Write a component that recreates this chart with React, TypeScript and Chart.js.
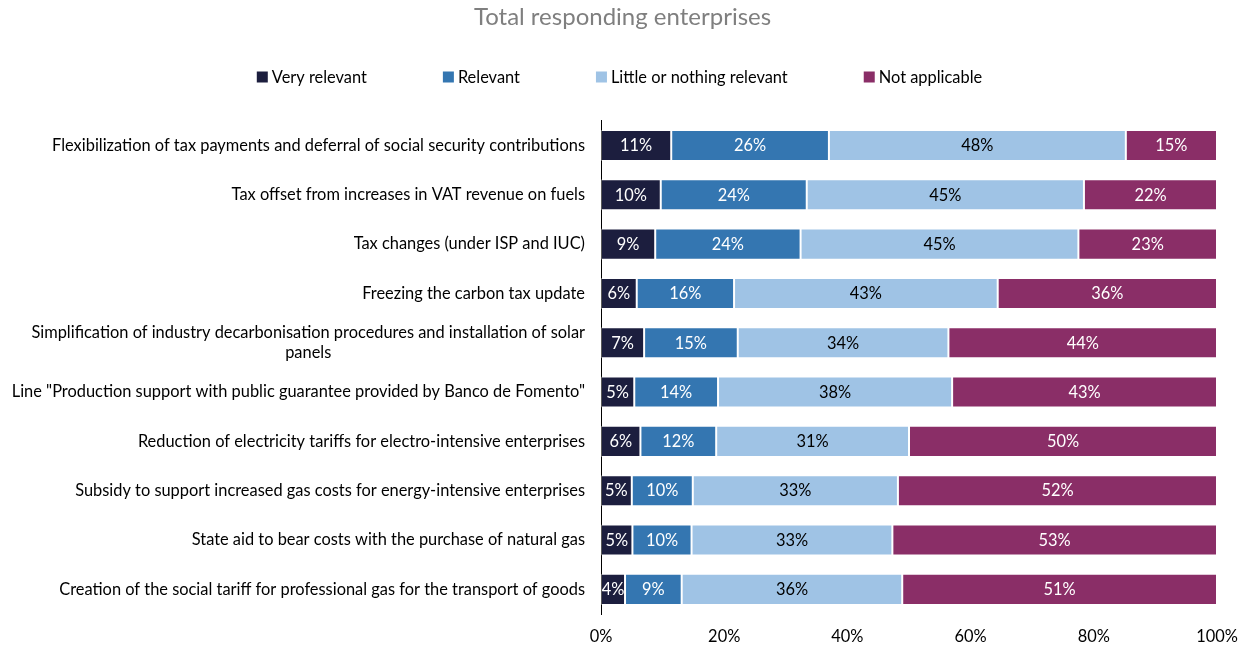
import React, { useEffect, useRef } from 'react';
import { Chart, registerables } from 'chart.js';

Chart.register(...registerables);

const FONT = "Lato, 'Open Sans', sans-serif";
const FS = 16.4;

const titleText = 'Total responding enterprises';

const categories: (string | string[])[] = [
  'Flexibilization of tax payments and deferral of social security contributions',
  'Tax offset from increases in VAT revenue on fuels',
  'Tax changes (under ISP and IUC)',
  'Freezing the carbon tax update',
  ['Simplification of industry decarbonisation procedures and installation of solar', 'panels'],
  'Line "Production support with public guarantee provided by Banco de Fomento"',
  'Reduction of electricity tariffs for electro-intensive enterprises',
  'Subsidy to support increased gas costs for energy-intensive enterprises',
  'State aid to bear costs with the purchase of natural gas',
  'Creation of the social tariff for professional gas for the transport of goods',
];

const seriesNames = ['Very relevant', 'Relevant', 'Little or nothing relevant', 'Not applicable'];

const veryRelevant = [11.4, 9.7, 8.8, 5.8, 7.0, 5.4, 6.4, 5.0, 5.1, 3.9];
const relevant = [25.6, 23.7, 23.6, 15.8, 15.2, 13.6, 12.3, 9.9, 9.6, 9.2];
const littleOrNothing = [48.2, 45.0, 45.1, 42.8, 34.2, 38.0, 31.3, 33.3, 32.6, 35.8];
const notApplicable = [14.8, 21.6, 22.5, 35.6, 43.6, 43.0, 50.0, 51.8, 52.7, 51.1];

const seriesColors = ['#1C1E3E', '#3476B1', '#9FC3E5', '#8A2E67'];
const labelColors = ['#ffffff', '#ffffff', '#000000', '#ffffff'];

const xTickStep = 20;

const yLabelPlugin = {
  id: 'yLabels',
  afterDraw(chart: any) {
    const ctx = chart.ctx;
    const yScale = chart.scales.y;
    const rightX = yScale.right - 16;
    const lh = 20;
    ctx.save();
    ctx.font = `${FS}px ${FONT}`;
    ctx.fillStyle = '#000';
    ctx.textBaseline = 'middle';
    ctx.textAlign = 'center';
    categories.forEach((lab, i) => {
      const lines = Array.isArray(lab) ? lab : [lab];
      const yc = yScale.getPixelForValue(i);
      const w = Math.max(...lines.map((l) => ctx.measureText(l).width));
      const cx = rightX - w / 2;
      lines.forEach((l, j) => {
        ctx.fillText(l, cx, yc - ((lines.length - 1) * lh) / 2 + j * lh);
      });
    });
    ctx.restore();
  },
};

const legendPlugin = {
  id: 'customLegend',
  afterDraw(chart: any) {
    const ctx = chart.ctx;
    ctx.save();
    ctx.font = `${FS}px ${FONT}`;
    ctx.textBaseline = 'middle';
    ctx.textAlign = 'left';
    const box = 11;
    const gapText = 4;
    const gapItem = 76;
    const widths = seriesNames.map((n) => box + gapText + ctx.measureText(n).width);
    const total = widths.reduce((a, b) => a + b, 0) + gapItem * (seriesNames.length - 1);
    let x = 619.5 - total / 2;
    const y = 77;
    seriesNames.forEach((n, i) => {
      ctx.fillStyle = seriesColors[i];
      ctx.fillRect(x, y - box / 2, box, box);
      ctx.fillStyle = '#000';
      ctx.fillText(n, x + box + gapText, y + 0.5);
      x += widths[i] + gapItem;
    });
    ctx.restore();
  },
};

const dataLabelPlugin = {
  id: 'dataLabels',
  afterDatasetsDraw(chart: any) {
    const ctx = chart.ctx;
    ctx.save();
    ctx.font = `${FS}px ${FONT}`;
    ctx.textAlign = 'center';
    ctx.textBaseline = 'middle';
    chart.data.datasets.forEach((ds: any, di: number) => {
      const meta = chart.getDatasetMeta(di);
      meta.data.forEach((el: any, i: number) => {
        const p = el.getProps(['x', 'base', 'y'], true);
        const v = ds.data[i];
        ctx.fillStyle = labelColors[di];
        ctx.fillText(Math.round(v) + '%', (p.x + p.base) / 2, p.y + 0.5);
      });
    });
    ctx.restore();
  },
};

export default function App() {
  const ref = useRef<HTMLCanvasElement | null>(null);
  useEffect(() => {
    if (!ref.current) return;
    const seriesData = [veryRelevant, relevant, littleOrNothing, notApplicable];
    const chart = new Chart(ref.current, {
      type: 'bar',
      data: {
        labels: categories as any,
        datasets: seriesNames.map((name, i) => ({
          label: name,
          data: seriesData[i],
          backgroundColor: seriesColors[i],
          borderColor: 'rgba(255,255,255,0.35)',
          borderWidth: 1,
          borderSkipped: false,
          barPercentage: 0.63,
          categoryPercentage: 1,
        })),
      },
      options: {
        indexAxis: 'y',
        animation: false,
        responsive: true,
        maintainAspectRatio: false,
        layout: { padding: { top: 0, right: 0, bottom: 3, left: 0 } },
        scales: {
          x: {
            type: 'linear',
            stacked: true,
            min: 0,
            max: 100,
            grid: { display: false, drawTicks: false },
            border: { display: false },
            ticks: {
              stepSize: xTickStep,
              padding: 13,
              color: '#000',
              font: { size: FS, family: FONT },
              callback: (v: any) => v + '%',
            },
            afterFit: (s: any) => {
              s.height = 31;
              s.paddingLeft = 0;
              s.paddingRight = 28;
            },
          },
          y: {
            type: 'category',
            stacked: true,
            grid: { display: false },
            border: { display: true, color: '#000', width: 1 },
            ticks: { display: false },
            afterFit: (s: any) => {
              s.width = 601;
            },
          },
        },
        plugins: {
          title: {
            display: true,
            text: titleText,
            color: '#7f7f7f',
            font: { size: 24, family: FONT, weight: 'normal', lineHeight: 1.1 },
            padding: { top: 4, bottom: 90.4 },
          },
          legend: { display: false },
          tooltip: { enabled: false },
        },
      },
      plugins: [yLabelPlugin, legendPlugin, dataLabelPlugin],
    });
    return () => chart.destroy();
  }, []);
  return (
    <div style={{ position: 'absolute', left: 0, top: 0, width: 1245, height: 648 }}>
      <canvas ref={ref} />
    </div>
  );
}
